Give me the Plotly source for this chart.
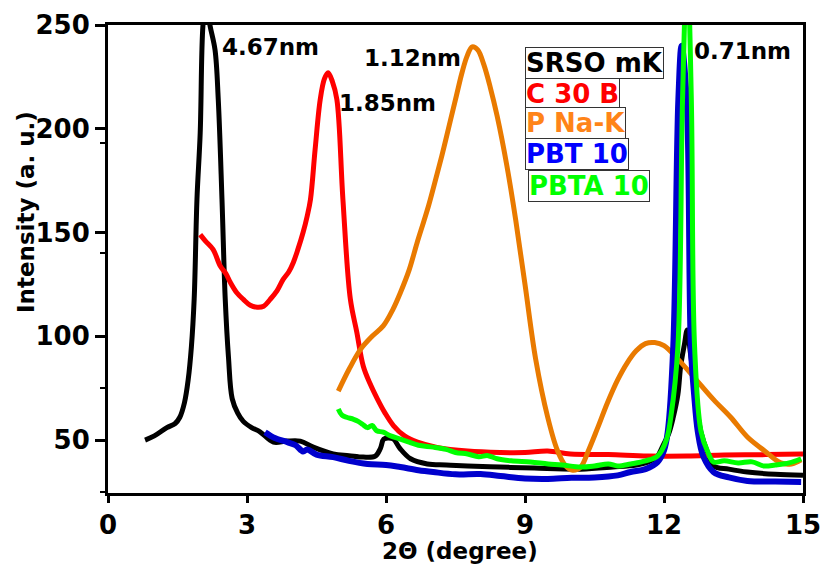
import plotly.graph_objects as go

# ---------------- data ----------------
srso_x = [0.8, 1.0, 1.27, 1.45, 1.55, 1.65, 1.73, 1.8, 1.86, 1.92, 1.99, 2.05, 2.12, 2.2, 2.31, 2.38,
          2.46, 2.53, 2.6, 2.68, 2.8, 2.92, 3.1, 3.28, 3.57, 3.85, 4.15, 4.43, 4.86, 5.2, 5.51, 5.77,
          5.88, 5.95, 6.05, 6.16, 6.3, 6.53, 6.89, 7.3, 7.76, 8.47, 9.2, 10.2, 10.9, 11.4, 11.65, 11.85,
          11.97, 12.1, 12.2, 12.3, 12.36, 12.44, 12.5, 12.57, 12.65, 12.72, 12.8, 12.94, 13.07, 13.4,
          13.8, 14.4, 15.0]
srso_y = [50, 52, 56, 58, 61, 68, 79, 95, 118, 166, 198, 250, 262, 250, 238, 214,
          166, 118, 90, 70, 63, 59, 56, 54, 49, 49.5, 49.5, 46.6, 43.3, 42.5, 41.8, 42.3,
          46, 50.5, 51, 50.5, 46, 41, 38.5, 38, 37.5, 37, 36.5, 36, 37, 38, 39.4, 42,
          47, 53, 61, 72, 85.6, 96, 103, 92, 78, 64, 53.6, 44, 37.5, 36,
          34.6, 33.5, 33]

c30b_x = [1.99, 2.1, 2.27, 2.42, 2.55, 2.64, 2.78, 2.92, 3.07, 3.22, 3.36, 3.5, 3.65, 3.78, 3.9,
          4.0, 4.1, 4.21, 4.3, 4.37, 4.47, 4.58, 4.67, 4.75, 4.84, 4.94, 5.07, 5.23, 5.37, 5.51,
          5.66, 5.81, 5.98, 6.16, 6.4, 6.68, 7.1, 7.76, 8.47, 9.0, 9.49, 9.98, 10.8, 11.65, 12.5,
          13.3, 14.2, 15.0]
c30b_y = [149, 146, 141.8, 134, 130, 126, 121, 117.8, 115, 114, 114.5, 117.8, 122, 127.4, 131,
          135.6, 142, 150, 158, 166, 190, 214, 224, 227, 223, 214, 166, 118, 102, 85.6,
          77, 70, 63, 57, 52, 49, 46.5, 44.7, 44, 44, 44.7, 43.3, 43, 42.3, 42.3,
          42.8, 43, 43.3]

pnak_x = [4.97, 5.2, 5.45, 5.7, 5.94, 6.15, 6.31, 6.5, 6.67, 6.81, 6.92, 7.1, 7.25, 7.39, 7.52,
          7.64, 7.75, 7.86, 7.98, 8.11, 8.25, 8.4, 8.61, 8.8, 9.0, 9.23, 9.49, 9.7, 9.88,
          10.03, 10.2, 10.37, 10.57, 10.78, 11.0, 11.2, 11.4, 11.6, 11.8, 12.0, 12.3, 12.64,
          13.07, 13.44, 13.8, 14.16, 14.52, 14.75, 14.96]
pnak_y = [73.6, 84, 93.7, 100, 105, 113, 121, 132, 145, 155, 163, 178, 191, 204, 216,
          227, 235, 239.5, 238, 231, 220, 206, 182, 156, 125, 89, 61, 45, 37.5,
          35.5, 37, 45, 56, 68, 79, 87, 93, 96.5, 97, 95.5, 89, 80.5,
          69.5, 61, 51.5, 45, 39, 38.5, 40.5]

pbt_x = [3.39, 3.6, 3.87, 4.05, 4.21, 4.3, 4.5, 4.86, 5.2, 5.6, 6.0, 6.31, 6.7, 7.02, 7.5, 8.04,
         8.47, 9.0, 9.49, 10.0, 10.5, 11.0, 11.28, 11.6, 11.86, 12.0, 12.08, 12.2, 12.31, 12.38,
         12.49, 12.58, 12.65, 12.73, 12.85, 13.07, 13.4, 13.8, 14.4, 14.96]
pbt_y = [53.8, 51, 49, 47.5, 44.5, 45.5, 43, 41.8, 40, 38.5, 38, 37, 35.5, 34.6, 33.5, 33.6,
         32.7, 31.5, 31.3, 31.8, 32, 33, 34.6, 36, 39.4, 45, 53.8, 95, 214, 240,
         214, 95, 72, 54, 42, 34.6, 32, 30.3, 30, 29.8]

pbta_x = [4.97, 5.05, 5.15, 5.3, 5.4, 5.5, 5.6, 5.7, 5.8, 5.94, 6.1, 6.31, 6.5, 6.7, 7.02, 7.3,
          7.5, 7.76, 8.0, 8.2, 8.4, 8.7, 9.12, 9.5, 9.8, 10.2, 10.5, 10.8, 11.0, 11.28, 11.6,
          11.86, 12.05, 12.15, 12.3, 12.4, 12.5, 12.59, 12.66, 12.8, 12.95, 13.07, 13.3, 13.6,
          13.9, 14.16, 14.4, 14.7, 14.96]
pbta_y = [65, 62, 61, 60, 59, 57.5, 56, 57, 54.5, 53.8, 52, 50.5, 49, 47.5, 46.6, 45.5,
          44, 43.3, 42, 42.5, 41, 40, 39.4, 38.5, 38, 37, 37.5, 38.5, 37.5, 38.5, 40,
          42.3, 50, 61.5, 95, 214, 280, 214, 95, 54, 44, 39.4, 40, 39,
          39.5, 37.5, 38, 39, 41]

series_names = ["SRSO mK", "C 30 B", "P Na-K", "PBT 10", "PBTA 10"]
line_colors = ["#000000", "#FF0000", "#E97A00", "#0000CD", "#00FF00"]
label_colors = ["#000000", "#FF0000", "#FF8418", "#0000FF", "#00FF00"]

x_ticks = [0, 3, 6, 9, 12, 15]
y_ticks = [50, 100, 150, 200, 250]
y_minor = [25, 75, 140, 193]

peak_labels = ["4.67nm", "1.85nm", "1.12nm", "0.71nm"]
peak_label_x = [3.5, 6.03, 6.58, 13.7]
peak_label_y = [239.5, 212.5, 234.0, 237.5]

# ---------------- figure ----------------
FONT = "DejaVu Sans"
fig = go.Figure()
xs = [srso_x, c30b_x, pnak_x, pbt_x, pbta_x]
ys = [srso_y, c30b_y, pnak_y, pbt_y, pbta_y]
widths = [5, 5, 5, 6, 5]
for name, x, y, c, w in zip(series_names, xs, ys, line_colors, widths):
    fig.add_trace(go.Scatter(x=x, y=y, mode="lines", name=name,
                             line=dict(color=c, width=w, shape="spline", smoothing=1.0)))

L, R, T, B = 108, 18, 25, 77
PW = 821 - L - R
PH = 570 - T - B

# peak-spacing labels
for txt, px, py in zip(peak_labels, peak_label_x, peak_label_y):
    fig.add_annotation(x=px, y=py, text=txt, showarrow=False,
                       font=dict(family=FONT, size=23, color="black", weight="bold"))

# legend boxes (separate bordered boxes, as in the reference)
box_tops_px = [47, 78, 107, 138, 170]
box_left_px = [525, 525, 525, 525, 528]
for name, c, tp, lp in zip(series_names, label_colors, box_tops_px, box_left_px):
    fig.add_annotation(xref="paper", yref="paper",
                       x=(lp - L) / PW, y=1 - (tp - T) / PH,
                       xanchor="left", yanchor="top", text=name, showarrow=False,
                       font=dict(family=FONT, size=26, color=c, weight="bold"),
                       bordercolor="#333333", borderwidth=1, borderpad=0,
                       bgcolor="white")

# axis titles
fig.add_annotation(xref="paper", yref="paper", x=(460 - L) / PW, y=-(551 - 493) / PH,
                   text="2Θ (degree)", showarrow=False, yanchor="middle",
                   font=dict(family=FONT, size=23, color="black", weight="bold"))
fig.add_annotation(xref="paper", yref="paper", x=-(L - 26) / PW, y=1 - (212 - T) / PH,
                   text="Intensity (a. u.)", showarrow=False, textangle=-90,
                   xanchor="center", yanchor="middle",
                   font=dict(family=FONT, size=23, color="black", weight="bold"))

axis_common = dict(showline=True, linecolor="black", linewidth=3, mirror=True,
                   ticks="outside", tickcolor="black", tickwidth=3,
                   showgrid=False, zeroline=False, automargin=False,
                   ticklabeloverflow="allow",
                   tickfont=dict(family=FONT, size=26, color="black", weight="bold"))

fig.update_xaxes(range=[0, 15], tickmode="array", tickvals=x_ticks,
                 ticktext=[str(v) for v in x_ticks], ticklen=7, **axis_common)
fig.update_yaxes(range=[24.5, 250], tickmode="array", tickvals=y_ticks,
                 ticktext=[str(v) for v in y_ticks], ticklen=10,
                 minor=dict(tickmode="array", tickvals=y_minor, ticks="outside",
                            ticklen=5, tickwidth=2, tickcolor="black", showgrid=False),
                 **axis_common)

fig.update_layout(width=821, height=570, showlegend=False,
                  plot_bgcolor="white", paper_bgcolor="white",
                  margin=dict(l=L, r=R, t=T, b=B, autoexpand=False),
                  font=dict(family=FONT, color="black"))

# remove the browser's default 8px body margin so the figure fills the window exactly
fig.write_html("out.html", config={"displayModeBar": False},
               post_script="document.body.style.margin='0';document.body.style.overflow='hidden';")
